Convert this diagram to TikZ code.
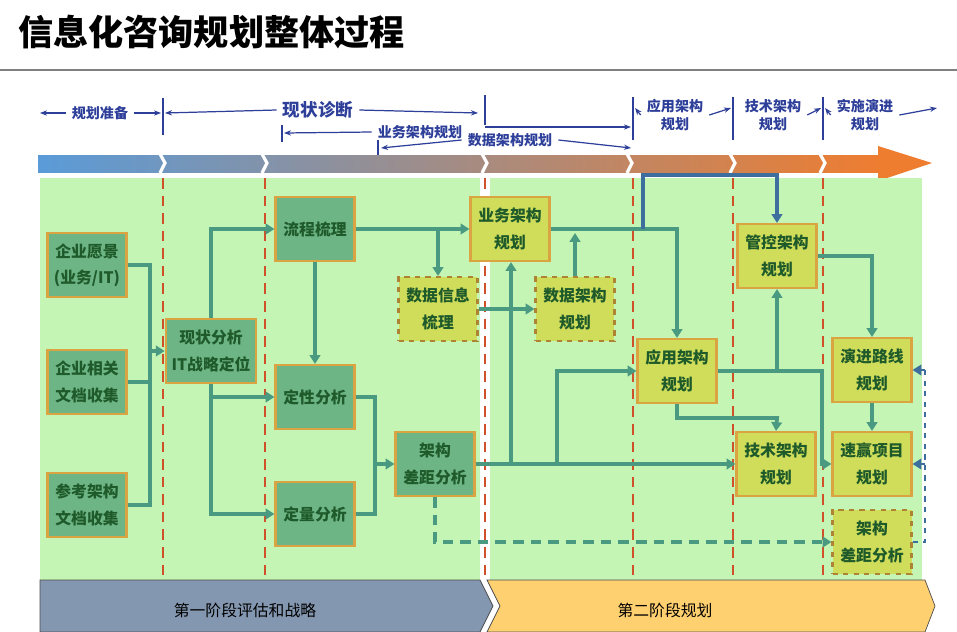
\documentclass[tikz,border=0pt]{standalone}
\usepackage{fontspec}
\setmainfont{Noto Sans CJK SC}
\usetikzlibrary{arrows.meta,positioning,calc}

\definecolor{bgreen}{HTML}{C4F5B4}
\definecolor{dgreen}{HTML}{6DB585}
\definecolor{ygreen}{HTML}{CFDD5A}
\definecolor{bord}{HTML}{D9A441}
\definecolor{txtg}{HTML}{1F5A2A}
\definecolor{conn}{HTML}{4A9A82}
\definecolor{navy}{HTML}{2E3F9A}
\definecolor{steel}{HTML}{3E6E9E}
\definecolor{dred}{HTML}{D0502A}
\definecolor{barblue}{HTML}{5A9BD8}
\definecolor{barmid}{HTML}{A88BB0}
\definecolor{barorange}{HTML}{EE7D30}
\definecolor{slate}{HTML}{8497B0}
\definecolor{amber}{HTML}{FFD070}

\begin{document}
\begin{tikzpicture}[x=0.02cm, y=-0.02cm,
    box/.style={rectangle, draw=bord, line width=1.2pt, fill=dgreen, minimum width=1.58cm, minimum height=1.28cm, align=center, font=\fontsize{9}{15}\selectfont\bfseries, text=txtg},
    ybox/.style={box, fill=ygreen},
    dbox/.style={box, fill=ygreen, dashed, draw=bord!80!black},
    conn/.style={draw=conn, line width=2.2pt, -{Triangle[length=5pt,width=6pt]}},
    line/.style={draw=conn, line width=2.2pt},
    phase/.style={draw=navy, -{Stealth[length=4pt]}, line width=0.7pt},
    lbl/.style={font=\fontsize{8}{10}\selectfont\bfseries, text=navy, align=center},
    sep/.style={dred, line width=1.6pt, dash pattern=on 6pt off 4pt}
]
\useasboundingbox (0,0) rectangle (957,632);

% title
\node[anchor=west, font=\fontsize{20}{24}\selectfont\bfseries] (title) at (12,32) {信息化咨询规划整体过程};
\draw[gray, line width=0.8pt] (0,70) -- (957,70);

% phase labels
\node[lbl] (p1) at (100,113) {规划准备};
\node[lbl, font=\fontsize{10}{12}\selectfont\bfseries] (p2) at (318,110) {现状诊断};
\node[lbl] (p3) at (420,132) {业务架构规划};
\node[lbl] (p4) at (510,140) {数据架构规划};
\node[lbl] (p5) at (675,115) {应用架构\\规划};
\node[lbl] (p6) at (773,115) {技术架构\\规划};
\node[lbl] (p7) at (865,115) {实施演进\\规划};
\foreach \x/\a/\b in {163/98/135, 485/95/125, 633/97/140, 733/97/140, 823/97/140, 282/125/142, 378/140/157}
  \draw[navy, line width=0.6pt] (\x,\a) -- (\x,\b);
\draw[phase] (p1.west) -- (40,113);
\draw[phase] (p1.east) -- (161,113);
\draw[phase] (p2.west) -- (165,113);
\draw[phase] (p2.east) -- (478,113);
\draw[phase] (p3.west) -- (284,133);
\draw[phase] (485,127) -- (631,127);
\draw[phase] (p4.west) -- (381,148);
\draw[phase] (p4.east) -- (631,148);
\draw[phase] (p5.west) -- (635,108);
\draw[phase] (p5.east) -- (731,108);
\draw[phase] (p6.east) -- (821,108);
\draw[phase] (p7.west) -- (825,108);
\draw[phase] (p7.east) -- (937,108);

% gradient bar
\shade[left color=barblue, middle color=barmid, right color=barorange] (38,155) rectangle (880,172);
\fill[barorange] (878,146) -- (932,163) -- (878,181) -- cycle;
\foreach \x in {163,265,485,630,733,823}
  \draw[white, line width=1.8pt] (\x-3,154) -- (\x+2,163) -- (\x-3,173);

% working area
\fill[bgreen] (40,178) rectangle (922,580);
\draw[white, line width=6pt] (485,178) -- (485,580);
\foreach \x in {163,265,485,633,733,823}
  \draw[sep] (\x,178) -- (\x,580);

% phases bottom
\filldraw[fill=slate, draw=black!70] (40,580) -- (480,580) -- (493,606) -- (480,632) -- (40,632) -- cycle;
\filldraw[fill=amber, draw=black!70] (487,580) -- (925,580) -- (935,606) -- (925,632) -- (487,632) -- (500,606) -- cycle;
\node[font=\fontsize{9}{11}\selectfont] (ph1) at (245,610) {第一阶段评估和战略};
\node[font=\fontsize{9}{11}\selectfont] (ph2) at (665,610) {第二阶段规划};

% boxes
\node[box] (vision) at (87,265) {企业愿景\\(业务/IT)};
\node[box] (docs) at (87,382) {企业相关\\文档收集};
\node[box] (ref) at (87,505) {参考架构\\文档收集};
\node[box] (status) at (211,351) {现状分析\\IT战略定位};
\node[box] (flow) at (315,229) {流程梳理};
\node[box] (qual) at (315,397) {定性分析};
\node[box] (quant) at (315,514) {定量分析};
\node[box] (gap) at (435,464) {架构\\差距分析};
\node[dbox] (datainfo) at (438,309) {数据信息\\梳理};
\node[ybox] (biz) at (510,229) {业务架构\\规划};
\node[dbox] (data) at (575,309) {数据架构\\规划};
\node[ybox] (app) at (677,371) {应用架构\\规划};
\node[ybox] (ctrl) at (777,256) {管控架构\\规划};
\node[ybox] (tech) at (776,464) {技术架构\\规划};
\node[ybox] (road) at (872,370) {演进路线\\规划};
\node[ybox] (quick) at (872,464) {速赢项目\\规划};
\node[dbox] (gap2) at (872,542) {架构\\差距分析};

% connectors
\draw[line] (vision.east) -| (150,351);
\draw[line] (docs.east) -| (150,351);
\draw[line] (ref.east) -| (150,351);
\draw[conn] (150,351) -- (status.west);
\draw[conn] (status.north) |- (flow.west);
\draw[conn] (status.south) |- (quant.west);
\draw[conn] (status.south |- qual.west) -- (qual.west);
\draw[conn] (flow.south) -- (qual.north);
\draw[conn] (flow.east) -- (biz.west);
\draw[conn] (flow.east -| datainfo.north) -- (datainfo.north);
\draw[line] (qual.east) -| (375,464);
\draw[line] (quant.east) -| (375,464);
\draw[conn] (375,464) -- (gap.west);
\draw[conn] (datainfo.east) -- (data.west);
\draw[conn] (gap.east) -- (tech.west);
\draw[conn] (511,464) -- (biz.south -| 511,0);
\draw[conn] (557,464) |- (app.west);
\draw[conn] (biz.east) -| (app.north);
\draw[conn] (data.north) -- (575,233);
\draw[conn, draw=steel] (643,229) |- (777,175) -- (ctrl.north);
\draw[conn] (ctrl.east) -| (road.north);
\draw[conn] (app.east) -| (822,464) -- (quick.west);
\draw[conn] (777,372) -- (ctrl.south);
\draw[conn] (app.south) |- (777,418) -- (tech.north);
\draw[conn] (road.south) -- (quick.north);
\draw[conn, dash pattern=on 6pt off 4pt] (435,497) |- (gap2.west);
\draw[steel, dashed, line width=1.4pt] (gap2.east) -| (925,370);
\draw[conn, draw=steel, line width=1.4pt] (925,370) -- (road.east);
\draw[conn, draw=steel, line width=1.4pt] (925,464) -- (quick.east);
\end{tikzpicture}
\end{document}
